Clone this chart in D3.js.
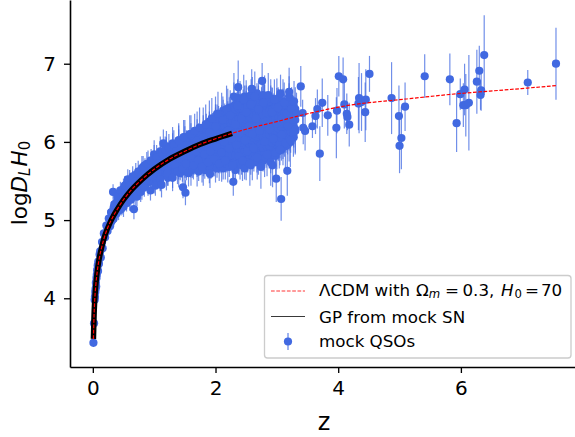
<!DOCTYPE html>
<html>
<head>
<meta charset="utf-8">
<script src="https://cdn.jsdelivr.net/npm/d3@7"></script>
<style>
  body { margin: 0; background: #fff; }
  svg { display: block; font-family: "DejaVu Sans", sans-serif; }
</style>
</head>
<body>
<div id="chart"></div>
<script>
// ----- Data -----
const xTicks = [0, 2, 4, 6];
const yTicks = [4, 5, 6, 7];

const lcdmZ = [0.01, 0.02, 0.03, 0.05, 0.07, 0.1, 0.15, 0.2, 0.3, 0.4, 0.5, 0.6, 0.8, 1, 1.25, 1.5, 1.75, 2, 2.27, 2.56, 3, 3.5, 4.19, 5, 6, 6.8, 7.55];
const lcdmLogD = [3.48, 3.78, 3.96, 4.18, 4.33, 4.49, 4.67, 4.81, 5.0, 5.14, 5.26, 5.36, 5.52, 5.65, 5.78, 5.88, 5.97, 6.04, 6.11, 6.175, 6.26, 6.36, 6.47, 6.54, 6.62, 6.67, 6.72];

const gpZ = [0.01, 0.02, 0.03, 0.05, 0.07, 0.1, 0.15, 0.2, 0.3, 0.4, 0.5, 0.6, 0.8, 1, 1.25, 1.5, 1.75, 2, 2.27];
const gpLogD = [3.48, 3.78, 3.96, 4.18, 4.33, 4.49, 4.67, 4.81, 5.0, 5.14, 5.26, 5.36, 5.52, 5.65, 5.78, 5.88, 5.97, 6.04, 6.11];

const qsoZ = [
  0.01, 0.02, 0.03, 0.035, 0.04, 0.045, 0.05, 0.055, 0.06, 0.065, 0.07, 0.08, 0.085, 0.09, 0.10, 0.11,
  0.12, 0.13, 0.15, 0.16, 0.18, 0.20, 0.22, 0.24, 0.26, 0.28, 0.30, 0.32, 0.33, 0.35, 0.38, 0.40,
  0.42, 0.45, 0.48, 0.50, 0.52, 0.55, 0.57, 0.58, 0.60, 0.62, 0.65, 0.67, 0.68, 0.70, 0.72, 0.74,
  0.75, 0.78, 0.80, 0.82, 0.84, 0.85, 0.88, 0.90, 0.92, 0.94, 0.95, 0.97, 1.00, 1.02, 1.04, 1.05,
  1.07, 1.10, 1.12, 1.13, 1.15, 1.17, 1.18, 1.20, 1.22, 1.24, 1.26, 1.28, 1.30, 1.32, 1.34, 1.36,
  1.38, 1.40, 1.42, 1.44, 1.46, 1.47, 1.48, 1.50, 1.51, 1.52, 1.54, 1.56, 1.58, 1.60, 1.62, 1.64,
  1.66, 1.68, 1.70, 1.72, 1.74, 1.76, 1.78, 1.80, 1.82, 1.84, 1.86, 1.88, 1.90, 1.91, 1.92, 1.94,
  1.96, 1.98, 2.00, 2.02, 2.04, 2.06, 2.08, 2.10, 2.12, 2.14, 2.16, 2.18, 2.20, 2.22, 2.24, 2.26,
  2.28, 2.29, 2.30, 2.32, 2.34, 2.36, 2.37, 2.38, 2.40, 2.42, 2.44, 2.46, 2.48, 2.50, 2.52, 2.54,
  2.56, 2.58, 2.59, 2.60, 2.62, 2.64, 2.66, 2.68, 2.70, 2.72, 2.74, 2.76, 2.78, 2.80, 2.82, 2.84,
  2.86, 2.88, 2.90, 2.92, 2.94, 2.96, 2.98, 3.00, 3.02, 3.04, 3.06, 3.08, 3.10, 3.12, 3.14, 3.16,
  3.18, 3.20, 3.22, 3.24, 3.26, 3.28, 3.30, 3.32,
  // sparse tail
  3.05, 3.08, 3.07, 2.99, 2.93, 3.17, 3.20, 3.27, 3.39, 3.42, 3.43, 3.46, 3.58, 3.63, 3.66, 3.70,
  3.74, 3.83, 3.97, 3.98, 4.01, 4.08, 4.10, 4.14, 4.15, 4.18, 4.33, 4.34, 4.38, 4.44, 4.45, 4.51,
  4.87, 4.99, 5.00, 5.03, 5.09, 5.41, 5.82, 5.93, 5.99, 6.04, 6.06, 6.08, 6.13, 6.26, 6.30, 6.32,
  6.33, 6.38, 7.09, 7.55
];

const qsoLogD = [
  3.43, 3.68, 3.98, 4.02, 4.08, 4.12, 4.20, 4.15, 4.26, 4.30, 4.36, 4.42, 4.35, 4.47, 4.44, 4.56,
  4.60, 4.52, 4.72, 4.64, 4.83, 4.78, 4.93, 4.86, 5.02, 4.92, 5.10, 5.00, 5.36, 5.20, 5.08, 5.30,
  5.14, 5.38, 5.18, 5.31, 5.44, 5.22, 5.52, 5.36, 5.44, 5.26, 5.56, 5.14, 5.38, 5.50, 5.30, 5.62,
  5.46, 5.36, 5.58, 5.68, 5.42, 5.54, 5.72, 5.50, 5.62, 5.38, 5.76, 5.56, 5.68, 5.44, 5.80, 5.60,
  5.72, 5.52, 5.45, 5.85, 5.98, 5.68, 5.90, 5.78, 5.60, 5.92, 5.72, 5.84, 5.54, 5.96, 5.70, 5.88,
  5.62, 6.02, 5.78, 5.92, 5.66, 5.42, 6.06, 5.84, 5.35, 5.72, 5.96, 5.60, 6.10, 5.82, 5.94, 5.70,
  6.14, 5.88, 6.02, 5.76, 6.18, 5.92, 5.68, 6.06, 5.84, 6.22, 5.98, 5.74, 6.12, 5.59, 5.88, 6.30,
  6.02, 5.78, 6.20, 5.94, 6.36, 5.72, 6.10, 5.86, 6.28, 6.00, 5.76, 6.42, 6.14, 5.92, 6.34, 6.04,
  5.70, 5.49, 6.58, 6.22, 5.96, 6.46, 6.70, 5.82, 6.12, 6.30, 5.76, 6.54, 6.02, 6.38, 5.88, 6.20,
  5.72, 6.48, 6.68, 6.10, 5.92, 6.58, 6.30, 5.80, 6.42, 6.14, 5.68, 6.78, 6.50, 6.00, 6.26, 5.84,
  6.60, 6.16, 5.74, 6.38, 6.04, 6.54, 5.86, 6.24, 6.44, 5.96, 6.62, 6.30, 6.10, 6.50, 5.98, 6.36,
  6.20, 6.58, 6.02, 6.42, 6.28, 6.52, 6.16, 6.36,
  // sparse tail
  5.90, 6.09, 5.27, 5.53, 5.70, 5.63, 6.64, 6.13, 6.71, 6.37, 6.18, 6.14, 6.20, 6.33, 6.42, 5.85,
  6.50, 6.34, 6.18, 6.40, 6.84, 6.80, 6.48, 6.36, 6.32, 6.22, 6.49, 6.56, 6.51, 6.38, 6.54, 6.87,
  6.56, 6.33, 5.95, 6.05, 6.45, 6.84, 6.80, 6.24, 6.61, 6.47, 6.67, 6.47, 6.50, 6.77, 6.91, 6.60,
  6.66, 7.11, 6.76, 7.00
];

const qsoErr = [
  0.05, 0.05, 0.06, 0.05, 0.06, 0.06, 0.07, 0.06, 0.07, 0.06, 0.07, 0.07, 0.06, 0.07, 0.08, 0.07,
  0.08, 0.07, 0.08, 0.08, 0.09, 0.08, 0.09, 0.09, 0.10, 0.09, 0.10, 0.10, 0.10, 0.10, 0.10, 0.11,
  0.10, 0.11, 0.11, 0.11, 0.12, 0.11, 0.13, 0.12, 0.12, 0.11, 0.13, 0.13, 0.13, 0.13, 0.12, 0.14,
  0.13, 0.13, 0.14, 0.14, 0.12, 0.14, 0.15, 0.13, 0.14, 0.13, 0.15, 0.14, 0.15, 0.13, 0.16, 0.14,
  0.15, 0.14, 0.16, 0.16, 0.18, 0.15, 0.17, 0.15, 0.16, 0.18, 0.15, 0.16, 0.17, 0.19, 0.15, 0.17,
  0.16, 0.19, 0.16, 0.18, 0.17, 0.14, 0.22, 0.17, 0.16, 0.18, 0.18, 0.17, 0.24, 0.17, 0.19, 0.18,
  0.22, 0.18, 0.20, 0.18, 0.26, 0.19, 0.20, 0.21, 0.18, 0.26, 0.20, 0.21, 0.22, 0.18, 0.20, 0.26,
  0.20, 0.22, 0.28, 0.20, 0.28, 0.22, 0.21, 0.20, 0.30, 0.22, 0.24, 0.30, 0.22, 0.21, 0.32, 0.22,
  0.24, 0.18, 0.30, 0.24, 0.22, 0.34, 0.34, 0.24, 0.22, 0.32, 0.26, 0.32, 0.24, 0.34, 0.25, 0.26,
  0.28, 0.32, 0.25, 0.26, 0.26, 0.32, 0.30, 0.28, 0.30, 0.26, 0.28, 0.23, 0.30, 0.26, 0.32, 0.28,
  0.28, 0.30, 0.30, 0.32, 0.28, 0.26, 0.30, 0.32, 0.26, 0.30, 0.24, 0.30, 0.32, 0.26, 0.34, 0.28,
  0.30, 0.26, 0.34, 0.28, 0.30, 0.26, 0.32, 0.27,
  // sparse tail
  0.20, 0.20, 0.28, 0.30, 0.28, 0.32, 0.31, 0.32, 0.26, 0.17, 0.21, 0.25, 0.15, 0.23, 0.25, 0.35,
  0.31, 0.26, 0.39, 0.29, 0.26, 0.28, 0.31, 0.26, 0.17, 0.28, 0.34, 0.45, 0.37, 0.38, 0.39, 0.23,
  0.46, 0.39, 0.35, 0.40, 0.31, 0.28, 0.33, 0.37, 0.20, 0.28, 0.33, 0.40, 0.61, 0.41, 0.32, 0.19,
  0.26, 0.51, 0.16, 0.46
];

// the solid part of the cloud: one z per column, the points stacked in it
const cloudZ = [0.30, 0.34, 0.38, 0.42, 0.46, 0.50, 0.55, 0.60, 0.65, 0.70, 0.75, 0.80, 0.85, 0.90, 0.95, 1.00,
  1.05, 1.10, 1.15, 1.20, 1.25, 1.30, 1.35, 1.40, 1.45, 1.50, 1.55, 1.60, 1.65, 1.70, 1.75, 1.80,
  1.85, 1.90, 1.95, 2.00, 2.05, 2.10, 2.15, 2.20, 2.25, 2.30, 2.35, 2.40, 2.45, 2.50, 2.55, 2.60,
  2.65, 2.70, 2.75, 2.80, 2.85, 2.90, 2.95, 3.00, 3.05, 3.10, 3.15, 3.20, 3.25, 3.30,
  1.025, 1.225, 1.425, 1.525, 1.625, 1.725, 1.825, 1.925, 2.025, 2.075, 2.125, 2.175, 2.225, 2.275, 2.325, 2.375,
  2.425, 2.475, 2.525, 2.575, 2.625, 2.675, 2.725, 2.775, 2.825, 2.875, 2.925, 2.975, 3.025, 3.075, 3.125, 3.175,
  3.225, 3.275];
const cloudLogD = [
  [4.98, 5.04, 5.10], [5.02, 5.10, 5.16], [5.08, 5.15, 5.22], [5.12, 5.18, 5.26],
  [5.14, 5.22, 5.30, 5.36], [5.17, 5.24, 5.32, 5.40], [5.22, 5.30, 5.38, 5.46], [5.26, 5.34, 5.42, 5.50],
  [5.32, 5.39, 5.46, 5.54], [5.34, 5.42, 5.50, 5.58], [5.38, 5.46, 5.54, 5.62], [5.42, 5.50, 5.58, 5.66],
  [5.45, 5.53, 5.61, 5.70], [5.48, 5.56, 5.64, 5.72], [5.50, 5.58, 5.67, 5.76], [5.52, 5.60, 5.69, 5.78, 5.84],
  [5.54, 5.62, 5.71, 5.80], [5.56, 5.64, 5.73, 5.82, 5.88], [5.58, 5.66, 5.75, 5.84], [5.58, 5.67, 5.77, 5.86, 5.94],
  [5.60, 5.69, 5.79, 5.88], [5.62, 5.70, 5.80, 5.90, 5.98], [5.62, 5.72, 5.82, 5.92], [5.64, 5.74, 5.84, 5.94, 6.02],
  [5.66, 5.76, 5.86, 5.96], [5.66, 5.76, 5.87, 5.98, 6.06], [5.68, 5.78, 5.88, 5.98], [5.68, 5.78, 5.90, 6.00, 6.10],
  [5.70, 5.80, 5.92, 6.02], [5.68, 5.80, 5.92, 6.04, 6.14], [5.72, 5.84, 5.94, 6.06], [5.70, 5.82, 5.96, 6.08, 6.18],
  [5.72, 5.84, 5.98, 6.10, 6.22], [5.74, 5.86, 6.00, 6.12, 6.26], [5.74, 5.86, 5.98, 6.12, 6.24], [5.76, 5.88, 6.02, 6.16, 6.30],
  [5.74, 5.88, 6.02, 6.16, 6.32], [5.78, 5.90, 6.04, 6.18, 6.34], [5.76, 5.90, 6.04, 6.20, 6.36], [5.78, 5.92, 6.06, 6.22, 6.38],
  [5.80, 5.92, 6.06, 6.24, 6.40], [5.76, 5.90, 6.04, 6.18, 6.32, 6.46], [5.80, 5.94, 6.08, 6.22, 6.36, 6.50], [5.82, 5.96, 6.10, 6.24, 6.38, 6.48],
  [5.78, 5.92, 6.06, 6.20, 6.34, 6.52], [5.80, 5.94, 6.08, 6.22, 6.36, 6.50], [5.84, 5.98, 6.12, 6.26, 6.40, 6.54], [5.82, 5.96, 6.10, 6.24, 6.38, 6.52],
  [5.84, 5.98, 6.14, 6.28, 6.42, 6.56], [5.86, 6.00, 6.12, 6.26, 6.40, 6.50], [5.88, 6.02, 6.16, 6.30, 6.44, 6.56], [5.86, 6.00, 6.14, 6.28, 6.42, 6.54],
  [5.90, 6.04, 6.18, 6.32, 6.46], [5.88, 6.02, 6.16, 6.30, 6.44, 6.52], [5.92, 6.06, 6.20, 6.34, 6.48], [5.96, 6.10, 6.24, 6.38, 6.50],
  [5.94, 6.08, 6.22, 6.36, 6.48], [5.98, 6.12, 6.26, 6.40, 6.52], [6.02, 6.16, 6.30, 6.44], [6.04, 6.18, 6.32, 6.46],
  [6.10, 6.24, 6.38], [6.14, 6.28, 6.42],
  [5.48, 5.56, 5.74], [5.54, 5.72, 5.82, 5.90], [5.60, 5.70, 5.80, 5.90, 5.98], [5.62, 5.73, 5.83, 5.93, 6.04],
  [5.64, 5.74, 5.85, 5.96, 6.08], [5.62, 5.74, 5.87, 5.99, 6.12], [5.64, 5.77, 5.90, 6.03, 6.17], [5.66, 5.80, 5.93, 6.06, 6.20],
  [5.66, 5.81, 5.95, 6.09, 6.24, 6.36], [5.70, 5.83, 5.97, 6.11, 6.27], [5.66, 5.83, 5.97, 6.11, 6.29, 6.40], [5.72, 5.85, 5.99, 6.13, 6.29],
  [5.68, 5.85, 5.99, 6.15, 6.32, 6.44], [5.72, 5.83, 5.97, 6.11, 6.27, 6.42], [5.64, 5.83, 5.97, 6.11, 6.25, 6.41], [5.72, 5.87, 6.01, 6.15, 6.29, 6.43, 6.56],
  [5.70, 5.85, 5.99, 6.13, 6.27, 6.43], [5.66, 5.87, 6.01, 6.15, 6.29, 6.43, 6.58], [5.74, 5.89, 6.03, 6.17, 6.31, 6.45], [5.70, 5.89, 6.03, 6.17, 6.31, 6.47, 6.60],
  [5.76, 5.91, 6.05, 6.19, 6.33, 6.47], [5.74, 5.93, 6.07, 6.21, 6.35, 6.49, 6.62], [5.78, 5.95, 6.09, 6.23, 6.37, 6.47], [5.76, 5.93, 6.07, 6.21, 6.35, 6.49, 6.60],
  [5.80, 5.95, 6.09, 6.23, 6.37, 6.50], [5.78, 5.95, 6.09, 6.23, 6.39, 6.52], [5.84, 5.99, 6.13, 6.27, 6.41, 6.55], [5.82, 6.01, 6.15, 6.29, 6.43],
  [5.88, 6.03, 6.17, 6.31, 6.43, 6.56], [5.90, 6.05, 6.19, 6.33, 6.46], [5.94, 6.09, 6.23, 6.37, 6.48], [5.96, 6.09, 6.23, 6.37, 6.50],
  [6.00, 6.13, 6.27, 6.41], [6.06, 6.20, 6.34, 6.46]
];
const cloudErr = [0.06, 0.10, 0.07, 0.12, 0.08, 0.13, 0.07, 0.14, 0.09, 0.15, 0.08, 0.16, 0.09, 0.17, 0.10, 0.18,
  0.09, 0.19, 0.10, 0.20, 0.10, 0.21, 0.11, 0.22, 0.12, 0.22, 0.11, 0.24, 0.12, 0.25, 0.13, 0.26,
  0.14, 0.27, 0.13, 0.28, 0.14, 0.29, 0.13, 0.30, 0.15, 0.30, 0.14, 0.30, 0.15, 0.29, 0.14, 0.31,
  0.15, 0.28, 0.14, 0.31, 0.15, 0.28, 0.14, 0.31, 0.15, 0.28, 0.16, 0.29, 0.14, 0.28,
  0.08, 0.10, 0.09, 0.11, 0.10, 0.12, 0.11, 0.13, 0.12, 0.10, 0.14, 0.11, 0.13, 0.12, 0.14, 0.13,
  0.12, 0.14, 0.13, 0.12, 0.14, 0.13, 0.12, 0.14, 0.13, 0.12, 0.14, 0.13, 0.12, 0.14, 0.13, 0.12,
  0.14, 0.13];

const qsoColor = "royalblue";
const lcdmColor = "red";

// ----- Layout -----
const width = 575;
const height = 437;
const margin = { top: 0, right: 0, bottom: 70, left: 70 };
const innerWidth = width - margin.left - margin.right;
const innerHeight = height - margin.top - margin.bottom;

const svg = d3.select("#chart").append("svg")
  .attr("width", width)
  .attr("height", height);

const g = svg.append("g")
  .attr("transform", `translate(${margin.left},${margin.top})`);

const x = d3.scaleLinear().domain([-0.372, 7.86]).range([0, innerWidth]);
const y = d3.scaleLinear().domain([3.121, 7.815]).range([innerHeight, 0]);

const qsos = [];
cloudZ.forEach((z, i) => {
  cloudLogD[i].forEach(v => qsos.push({ z: z, v: v, e: cloudErr[i] }));
});
qsoZ.forEach((z, i) => qsos.push({ z: z, v: qsoLogD[i], e: qsoErr[i] }));

// error bars
g.selectAll(".err")
  .data(qsos)
  .enter()
  .append("line")
  .attr("class", "err")
  .attr("x1", d => x(d.z))
  .attr("x2", d => x(d.z))
  .attr("y1", d => y(d.v - d.e))
  .attr("y2", d => y(d.v + d.e))
  .attr("stroke", qsoColor)
  .attr("stroke-width", 1.2)
  .attr("stroke-opacity", 0.75);

// points
g.selectAll(".qso")
  .data(qsos)
  .enter()
  .append("circle")
  .attr("class", "qso")
  .attr("cx", d => x(d.z))
  .attr("cy", d => y(d.v))
  .attr("r", 4.1)
  .attr("fill", qsoColor);

const curve = d3.line().x(d => x(d[0])).y(d => y(d[1])).curve(d3.curveMonotoneX);

// GP band
g.append("path")
  .attr("d", curve(gpZ.map((z, i) => [z, gpLogD[i]])))
  .attr("fill", "none")
  .attr("stroke", "black")
  .attr("stroke-width", 5.5);

// LCDM
g.append("path")
  .attr("d", curve(lcdmZ.map((z, i) => [z, lcdmLogD[i]])))
  .attr("fill", "none")
  .attr("stroke", lcdmColor)
  .attr("stroke-width", 1.2)
  .attr("stroke-dasharray", "3.7,1.6");

// ----- Axes -----
const xAxis = g.append("g")
  .attr("transform", `translate(0,${innerHeight})`)
  .call(d3.axisBottom(x).tickValues(xTicks).tickFormat(d3.format("d")).tickSize(6).tickPadding(8).tickSizeOuter(0));

const yAxis = g.append("g")
  .call(d3.axisLeft(y).tickValues(yTicks).tickFormat(d3.format("d")).tickSize(6).tickPadding(8).tickSizeOuter(0));

[xAxis, yAxis].forEach(a => {
  a.attr("font-family", "DejaVu Sans").attr("font-size", 20);
  a.selectAll("text").attr("fill", "#000");
  a.selectAll("line").attr("stroke", "#000").attr("stroke-width", 1.33);
  a.select(".domain").attr("stroke", "#000").attr("stroke-width", 1.6);
});

// axis labels
svg.append("text")
  .attr("x", 324)
  .attr("y", 430)
  .attr("text-anchor", "middle")
  .attr("font-size", 24)
  .text("z");

const yLabel = svg.append("text")
  .attr("transform", "translate(27,183) rotate(-90)")
  .attr("text-anchor", "middle")
  .attr("font-size", 21.5);
yLabel.append("tspan").text("log");
yLabel.append("tspan").attr("font-style", "italic").text("D");
yLabel.append("tspan").attr("font-style", "italic").attr("font-size", 15).attr("dy", 3).text("L");
yLabel.append("tspan").attr("font-style", "italic").attr("dy", -3).attr("dx", 1).text("H");
yLabel.append("tspan").attr("font-size", 15).attr("dy", 3).text("0");

// ----- Legend -----
const legend = svg.append("g").attr("transform", "translate(264,275)");

legend.append("rect")
  .attr("x", 0.5)
  .attr("y", 0.5)
  .attr("width", 306.5)
  .attr("height", 82.5)
  .attr("rx", 3)
  .attr("fill", "#fff")
  .attr("fill-opacity", 0.8)
  .attr("stroke", "#ccc")
  .attr("stroke-width", 1.33);

legend.append("line")
  .attr("x1", 7).attr("x2", 41).attr("y1", 16).attr("y2", 16)
  .attr("stroke", lcdmColor)
  .attr("stroke-width", 0.8)
  .attr("stroke-dasharray", "3.7,1.6");

legend.append("line")
  .attr("x1", 7).attr("x2", 41).attr("y1", 41.5).attr("y2", 41.5)
  .attr("stroke", "#222")
  .attr("stroke-width", 0.9);

legend.append("line")
  .attr("x1", 24).attr("x2", 24).attr("y1", 58).attr("y2", 75)
  .attr("stroke", qsoColor)
  .attr("stroke-width", 1);

legend.append("circle")
  .attr("cx", 24).attr("cy", 66.5).attr("r", 4.1)
  .attr("fill", qsoColor);

const row1 = legend.append("text").attr("x", 55).attr("y", 20.5).attr("font-size", 16.7);
row1.append("tspan").text("ΛCDM with ");
row1.append("tspan").attr("x", 152).text("Ω");
row1.append("tspan").attr("font-style", "italic").attr("font-size", 11.7).attr("dy", 2.5).text("m");
row1.append("tspan").attr("x", 181).attr("dy", -2.5).text("=");
row1.append("tspan").attr("x", 198.5).text("0.3,");
row1.append("tspan").attr("x", 237).attr("font-style", "italic").text("H");
row1.append("tspan").attr("x", 250.5).attr("font-size", 11.7).attr("dy", 2.5).text("0");
row1.append("tspan").attr("x", 261).attr("dy", -2.5).text("=");
row1.append("tspan").attr("x", 277).text("70");

legend.append("text").attr("x", 55).attr("y", 48).attr("font-size", 16.7).text("GP from mock SN");
legend.append("text").attr("x", 55).attr("y", 72.3).attr("font-size", 16.7).text("mock QSOs");
</script>
</body>
</html>
